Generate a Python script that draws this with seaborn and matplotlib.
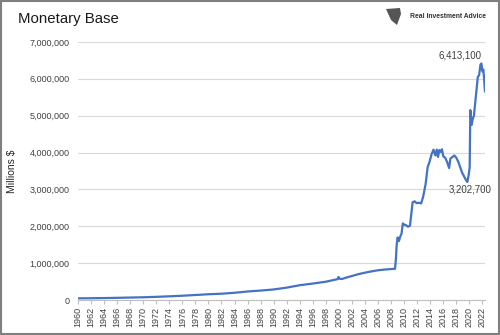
import matplotlib
matplotlib.use("Agg")
import matplotlib.pyplot as plt
import seaborn as sns
import pandas as pd
from matplotlib.patches import Rectangle, Polygon
from matplotlib.ticker import FuncFormatter

years = [1960, 1962, 1964, 1966, 1968, 1970, 1972, 1974, 1976, 1978, 1980, 1982,
         1984, 1986, 1988, 1990, 1992, 1994, 1996, 1998, 1999.8, 1999.95, 2000.1,
         2000.5, 2001, 2002, 2003, 2004, 2005, 2006, 2007, 2008.6, 2008.75, 2008.85,
         2009.0, 2009.2, 2009.4, 2009.6, 2009.8, 2010.0, 2010.3, 2010.6, 2010.9,
         2011.3, 2011.6, 2011.9, 2012.3, 2012.6, 2012.9, 2013.3, 2013.6, 2013.9,
         2014.2, 2014.5, 2014.8, 2015.0, 2015.2, 2015.4, 2015.6, 2015.8, 2016.0,
         2016.3, 2016.6, 2016.9, 2017.1, 2017.4, 2017.7, 2018.0, 2018.3, 2018.6,
         2018.9, 2019.2, 2019.5, 2019.7, 2019.9, 2020.05, 2020.15, 2020.35, 2020.5,
         2020.7, 2020.9, 2021.1, 2021.3, 2021.5, 2021.7, 2021.85, 2022.0, 2022.15,
         2022.3, 2022.4]
base = [50000, 52000, 57000, 63000, 71000, 78000, 90000, 104000, 120000, 140000,
        160000, 175000, 200000, 235000, 260000, 290000, 340000, 405000, 450000,
        500000, 570000, 630000, 580000, 575000, 605000, 655000, 705000, 745000,
        780000, 810000, 830000, 850000, 1130000, 1480000, 1700000, 1600000,
        1720000, 1800000, 2080000, 2050000, 2030000, 1990000, 2020000, 2650000,
        2680000, 2630000, 2640000, 2620000, 2790000, 3150000, 3600000, 3750000,
        3950000, 4080000, 3920000, 4080000, 3880000, 4070000, 4020000, 4090000,
        3900000, 3860000, 3740000, 3580000, 3840000, 3880000, 3920000, 3860000,
        3750000, 3600000, 3450000, 3350000, 3250000, 3202700, 3400000, 3600000,
        5150000, 4750000, 4900000, 5000000, 5350000, 5700000, 6050000, 6100000,
        6380000, 6413100, 6200000, 6250000, 5900000, 5650000]
tick_years = list(range(1960, 2023, 2))
y_ticks = [0, 1000000, 2000000, 3000000, 4000000, 5000000, 6000000, 7000000]
title = "Monetary Base"
ylabel = "Millions $"
peak_label = "6,413,100"
trough_label = "3,202,700"
brand = "Real Investment Advice"

df = pd.DataFrame({"year": years, "base": base})

sns.set_style("white")
plt.rcParams["font.family"] = ["Liberation Sans", "DejaVu Sans"]

fig = plt.figure(figsize=(5, 3.35), dpi=100)
ax = fig.add_axes([0.156, 0.104, 0.814, 0.771])

sns.lineplot(data=df, x="year", y="base", ax=ax, color="#4472C4", linewidth=1.6)

ax.set_xlim(1960, 2022.4)
ax.set_ylim(0, 7000000)
ax.set_xticks(tick_years)
ax.set_xticklabels([str(y) for y in tick_years], rotation=90, fontsize=6.5, color="#404040")
ax.set_yticks(y_ticks)
ax.yaxis.set_major_formatter(FuncFormatter(lambda v, p: f"{int(v):,}"))
ax.tick_params(axis="y", labelsize=6.5, labelcolor="#404040", length=0, pad=6)
ax.tick_params(axis="x", length=3, color="#bfbfbf", pad=2, direction="out", bottom=True)
ax.grid(axis="y", color="#d9d9d9", linewidth=0.8)
ax.set_axisbelow(True)
for s in ["top", "right", "left"]:
    ax.spines[s].set_visible(False)
ax.spines["bottom"].set_color("#bfbfbf")
ax.spines["bottom"].set_linewidth(0.8)
ax.set_xlabel("")
ax.set_ylabel(ylabel, fontsize=7.5, color="#262626")
ax.yaxis.set_label_coords(-0.15, 0.5)

ax.annotate(peak_label, xy=(2021.85, 6413100), xytext=(460, 335 - 55), textcoords="figure pixels",
            fontsize=7, color="#404040", ha="center", va="center")
ax.annotate(trough_label, xy=(2019.7, 3202700), xytext=(470, 335 - 190), textcoords="figure pixels",
            fontsize=7, color="#404040", ha="center", va="center")

fig.text(18 / 500, 1 - 19 / 335, title, fontsize=10.8, color="#1a1a1a", ha="left", va="center")
fig.text(410 / 500, 1 - 16 / 335, brand, fontsize=4.9, fontweight="bold", color="#333333",
         ha="left", va="center")
fig.add_artist(Polygon([(386 / 500, 1 - 9 / 335), (400 / 500, 1 - 8 / 335), (401 / 500, 1 - 14 / 335),
                        (397 / 500, 1 - 25 / 335), (391 / 500, 1 - 20 / 335)],
                       closed=True, transform=fig.transFigure, facecolor="#555555", edgecolor="none"))
fig.add_artist(Rectangle((0.002, 0.003), 0.996, 0.994, transform=fig.transFigure,
                         fill=False, edgecolor="#7f7f7f", linewidth=1.5))

fig.savefig("out.png", dpi=100)
